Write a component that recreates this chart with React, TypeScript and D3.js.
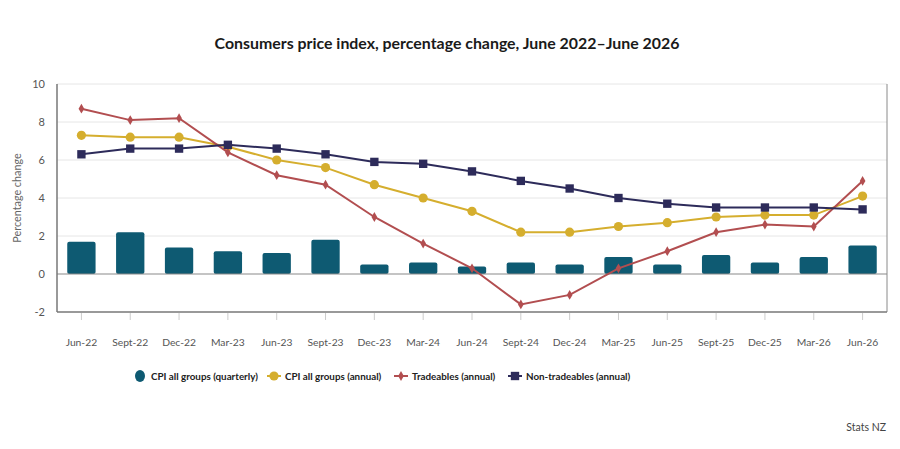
import React from 'react';
import * as d3 from 'd3';

const quarters = ['Jun-22', 'Sept-22', 'Dec-22', 'Mar-23', 'Jun-23', 'Sept-23', 'Dec-23', 'Mar-24', 'Jun-24', 'Sept-24', 'Dec-24', 'Mar-25', 'Jun-25', 'Sept-25', 'Dec-25', 'Mar-26', 'Jun-26'];
const cpiQuarterly = [1.7, 2.2, 1.4, 1.2, 1.1, 1.8, 0.5, 0.6, 0.4, 0.6, 0.5, 0.9, 0.5, 1.0, 0.6, 0.9, 1.5];
const cpiAnnual = [7.3, 7.2, 7.2, 6.7, 6.0, 5.6, 4.7, 4.0, 3.3, 2.2, 2.2, 2.5, 2.7, 3.0, 3.1, 3.1, 4.1];
const tradeables = [8.7, 8.1, 8.2, 6.4, 5.2, 4.7, 3.0, 1.6, 0.3, -1.6, -1.1, 0.3, 1.2, 2.2, 2.6, 2.5, 4.9];
const nonTradeables = [6.3, 6.6, 6.6, 6.8, 6.6, 6.3, 5.9, 5.8, 5.4, 4.9, 4.5, 4.0, 3.7, 3.5, 3.5, 3.5, 3.4];
const yTicks = [-2, 0, 2, 4, 6, 8, 10];

const W = 900;
const H = 449;
const FONT = 'Lato, "Open Sans", sans-serif';
const BAR = '#0e5a72';
const YELLOW = '#d5ae2e';
const RED = '#b24e50';
const NAVY = '#2d2b5a';

export default function App() {
  const left = 57, right = 887, top = 84, bottom = 312;

  const x = d3.scaleBand<string>().domain(quarters).range([left, right]).paddingInner(0.42).paddingOuter(0.21);
  const y = d3.scaleLinear().domain([-2, 10]).range([bottom, top]);
  const cx = (q: string) => (x(q) ?? 0) + x.bandwidth() / 2;

  const line = d3.line<number>().x((_, i) => cx(quarters[i])).y(d => y(d));
  const sq = d3.symbol(d3.symbolSquare, 70)();
  const dia = d3.symbol(d3.symbolDiamond, 28)();

  const series = [
    { name: 'CPI all groups (annual)', values: cpiAnnual, color: YELLOW, kind: 'circle' },
    { name: 'Tradeables (annual)', values: tradeables, color: RED, kind: 'diamond' },
    { name: 'Non-tradeables (annual)', values: nonTradeables, color: NAVY, kind: 'square' },
  ];

  const marker = (kind: string, color: string, px: number, py: number, key: any) => {
    if (kind === 'circle') return <circle key={key} cx={px} cy={py} r={4.6} fill={color} />;
    return <path key={key} d={kind === 'square' ? sq! : dia!} transform={`translate(${px},${py})`} fill={color} />;
  };

  const legend = [
    { name: 'CPI all groups (quarterly)', color: BAR, kind: 'bar', x: 140 },
    { name: 'CPI all groups (annual)', color: YELLOW, kind: 'circle', x: 274 },
    { name: 'Tradeables (annual)', color: RED, kind: 'diamond', x: 401 },
    { name: 'Non-tradeables (annual)', color: NAVY, kind: 'square', x: 515 },
  ];

  return (
    <svg width={W} height={H} style={{ display: 'block', margin: -8, background: '#fff' }} fontFamily={FONT}>
      <text x={447} y={49} textAnchor="middle" fontSize={15.9} fontWeight={700} fill="#1a1a1a">
        Consumers price index, percentage change, June 2022–June 2026
      </text>

      {/* gridlines */}
      {yTicks.filter(t => t > 0).map(t => (
        <line key={t} x1={left} x2={right} y1={y(t)} y2={y(t)} stroke="#e6e6e6" strokeWidth={1} />
      ))}
      <line x1={right} x2={right} y1={top} y2={bottom} stroke="#8a8a8a" strokeWidth={1} />

      {/* bars */}
      {cpiQuarterly.map((v, i) => (
        <rect key={i} x={x(quarters[i])} y={y(v)} width={x.bandwidth()} height={y(0) - y(v)} rx={2} fill={BAR} />
      ))}

      <line x1={left} x2={right} y1={y(0)} y2={y(0)} stroke="#8a8a8a" strokeWidth={1.2} />
      <line x1={left} x2={left} y1={top} y2={bottom} stroke="#777" strokeWidth={1.5} />
      <line x1={left} x2={right} y1={bottom} y2={bottom} stroke="#777" strokeWidth={1.5} />

      {/* y ticks */}
      {yTicks.map(t => (
        <text key={t} x={45} y={y(t) + 4} textAnchor="end" fontSize={11} fill="#555">{t}</text>
      ))}
      <text transform={`translate(21,${y(4)}) rotate(-90)`} textAnchor="middle" fontSize={10.8} fill="#666">Percentage change</text>

      {/* x ticks */}
      {quarters.map(q => (
        <g key={q}>
          <line x1={cx(q)} x2={cx(q)} y1={bottom + 1} y2={bottom + 8} stroke="#ccc" />
          <text x={cx(q)} y={345.5} textAnchor="middle" fontSize={10.3} fill="#555">{q}</text>
        </g>
      ))}

      {/* lines */}
      {series.map(s => (
        <g key={s.name}>
          <path d={line(s.values)!} fill="none" stroke={s.color} strokeWidth={2} />
          {s.values.map((v, i) => marker(s.kind, s.color, cx(quarters[i]), y(v), i))}
        </g>
      ))}

      {/* legend */}
      {legend.map(l => (
        <g key={l.name} transform={`translate(${l.x},376)`}>
          {l.kind === 'bar'
            ? <ellipse cx={0} cy={0} rx={5} ry={6} fill={l.color} />
            : <>
                <line x1={-7} x2={7} y1={0} y2={0} stroke={l.color} strokeWidth={2} />
                {marker(l.kind, l.color, 0, 0, 'm')}
              </>}
          <text x={11} y={3.6} fontSize={9.8} fontWeight={700} fill="#222">{l.name}</text>
        </g>
      ))}

      <text x={886} y={431} textAnchor="end" fontSize={10.5} fill="#444">Stats NZ</text>
    </svg>
  );
}
